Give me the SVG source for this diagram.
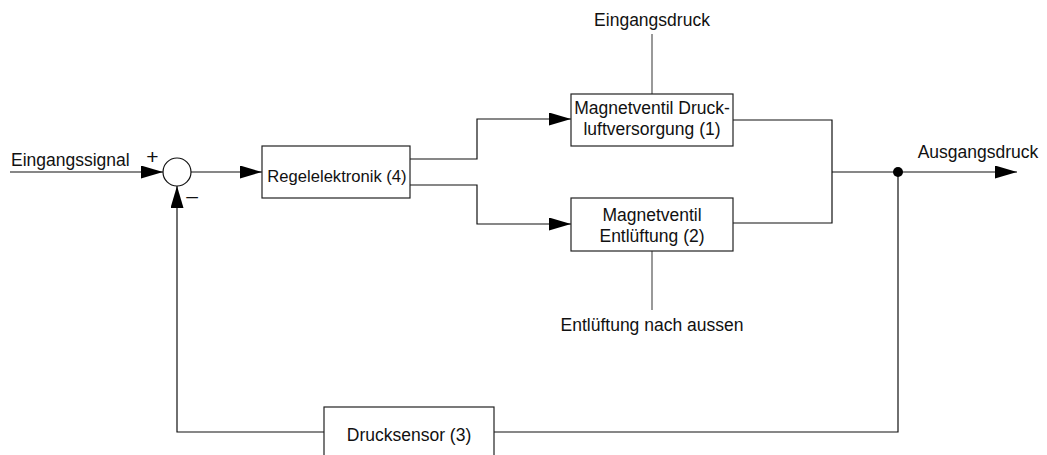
<svg xmlns="http://www.w3.org/2000/svg" width="1047" height="455" viewBox="0 0 1047 455">
<style>
text{font-family:"Liberation Sans",Arial,sans-serif;font-size:17.5px;fill:#111}
.c{text-anchor:middle}
.s{font-size:21px}
.r{font-size:16.6px}
.box{fill:#fff;stroke:#222;stroke-width:1.2}
.ln{fill:none;stroke:#111;stroke-width:1.2}
.gl{fill:none;stroke:#555;stroke-width:1.2}
</style>
<defs>
<marker id="ah" markerUnits="userSpaceOnUse" markerWidth="22" markerHeight="13" refX="22" refY="6.5" orient="auto">
<path d="M0,0 L22,6.5 L0,13 Z" fill="#000"/>
</marker>
</defs>
<g id="connectors">
<line class="ln" x1="10" y1="172" x2="163" y2="172" marker-end="url(#ah)"/>
<line class="ln" x1="191" y1="172" x2="262" y2="172" marker-end="url(#ah)"/>
<polyline class="ln" points="410,159 477,159 477,119 571,119" marker-end="url(#ah)"/>
<polyline class="ln" points="410,185 477,185 477,224 571,224" marker-end="url(#ah)"/>
<line class="gl" x1="652" y1="34" x2="652" y2="94"/>
<line class="gl" x1="652" y1="251" x2="652" y2="310"/>
<polyline class="ln" points="733,120 832,120 832,223 733,223"/>
<line class="ln" x1="832" y1="172" x2="1017" y2="172" marker-end="url(#ah)"/>
<polyline class="ln" points="898,172 898,432 494,432"/>
<polyline class="ln" points="324,432 177,432 177,186" marker-end="url(#ah)"/>
<circle cx="898" cy="172" r="5" fill="#000"/>
</g>
<g id="input">
<text x="11" y="166">Eingangssignal</text>
</g>
<g id="sum">
<circle cx="177" cy="172" r="14" fill="#fff" stroke="#111" stroke-width="1.2"/>
<text x="152.5" y="164" class="c s">+</text>
<text x="192" y="203" class="c s">–</text>
</g>
<g id="regelelektronik">
<rect class="box" x="262" y="146" width="148" height="52"/>
<text x="337" y="182" class="c r">Regelelektronik (4)</text>
</g>
<g id="ventil1">
<rect class="box" x="571" y="94" width="162" height="52"/>
<text x="652" y="114" class="c">Magnetventil Druck-</text>
<text x="652" y="135" class="c">luftversorgung (1)</text>
</g>
<g id="eingangsdruck">
<text x="652" y="26" class="c">Eingangsdruck</text>
</g>
<g id="ventil2">
<rect class="box" x="571" y="198" width="162" height="53"/>
<text x="652" y="221" class="c">Magnetventil</text>
<text x="652" y="242" class="c">Entlüftung (2)</text>
</g>
<g id="entlueftung">
<text x="652" y="331" class="c">Entlüftung nach aussen</text>
</g>
<g id="ausgang">
<text x="978" y="158" class="c">Ausgangsdruck</text>
</g>
<g id="drucksensor">
<rect class="box" x="324" y="407" width="170" height="60"/>
<text x="409" y="441" class="c">Drucksensor (3)</text>
</g>
</svg>
